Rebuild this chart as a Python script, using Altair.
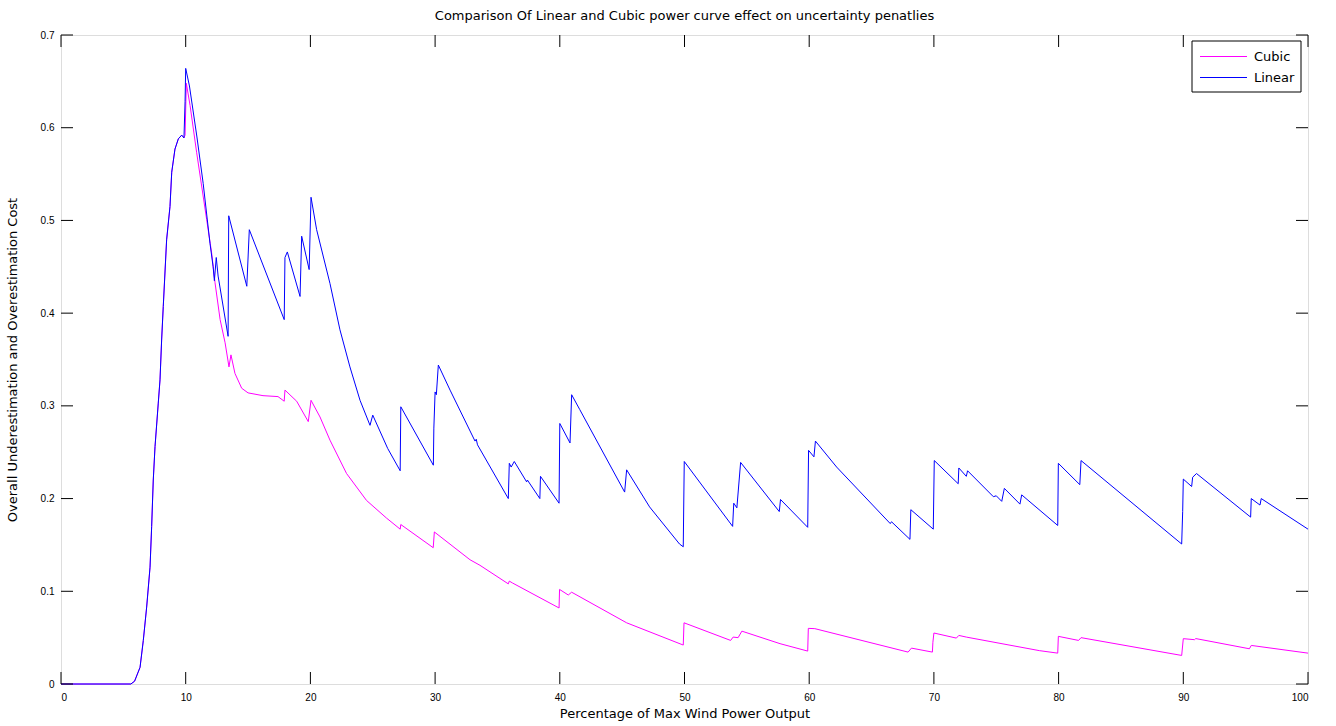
import altair as alt
import pandas as pd

# ---- data ----
rise_x = [0, 5.6, 5.9, 6.34, 6.6, 6.87, 7.14, 7.27, 7.4, 7.54, 7.8, 7.94, 8.07, 8.2, 8.47,
          8.74, 8.88, 9.14, 9.41, 9.68, 9.86]
rise_y = [0, 0, 0.003, 0.018, 0.047, 0.083, 0.126, 0.17, 0.22, 0.256, 0.303, 0.328, 0.371,
          0.407, 0.479, 0.515, 0.552, 0.577, 0.588, 0.592, 0.589]

linear_x = rise_x + [
    9.95, 10.0, 10.3, 10.9, 11.4, 11.95, 12.2, 12.3, 12.45, 12.6, 13.4, 13.45, 14.9, 15.1,
    17.9, 17.96, 18.15, 19.17, 19.3, 19.9, 20.05, 20.5, 21.57, 22.37, 23.17, 23.98, 24.78,
    25.0, 26.2, 27.2, 27.25, 29.86, 29.9, 30.0, 30.1, 30.26, 31.2, 33.2, 33.3, 33.4, 35.87,
    35.95, 36.1, 36.35, 37.34, 37.4, 38.4, 38.45, 39.94, 40.0, 40.82, 40.95, 41.6, 45.2,
    45.36, 47.2, 49.6, 49.9, 49.98, 53.86, 53.95, 54.2, 54.5, 57.6, 57.7, 59.88, 59.95,
    60.38, 60.5, 62.2, 66.5, 66.6, 68.08, 68.15, 69.95, 70.03, 71.95, 72.0, 72.6, 72.7,
    74.77, 75.0, 75.44, 75.65, 76.9, 77.04, 79.93, 79.98, 81.7, 81.8, 89.87, 89.95, 90.0,
    90.67, 90.75, 91.06, 95.4, 95.45, 96.15, 96.25, 100]
linear_y = rise_y + [
    0.628, 0.664, 0.645, 0.59, 0.54, 0.475, 0.45, 0.435, 0.46, 0.44, 0.375, 0.505, 0.429,
    0.49, 0.393, 0.46, 0.466, 0.418, 0.483, 0.447, 0.525, 0.49, 0.432, 0.382, 0.342, 0.306,
    0.279, 0.29, 0.254, 0.23, 0.299, 0.236, 0.276, 0.315, 0.312, 0.344, 0.317, 0.262, 0.264,
    0.258, 0.2, 0.238, 0.234, 0.24, 0.218, 0.22, 0.2, 0.224, 0.195, 0.281, 0.26, 0.312,
    0.296, 0.207, 0.231, 0.191, 0.151, 0.148, 0.24, 0.17, 0.195, 0.19, 0.239, 0.186, 0.199,
    0.169, 0.252, 0.245, 0.262, 0.234, 0.173, 0.175, 0.156, 0.188, 0.167, 0.241, 0.216,
    0.233, 0.224, 0.23, 0.202, 0.203, 0.197, 0.211, 0.194, 0.204, 0.171, 0.238, 0.215,
    0.241, 0.151, 0.186, 0.221, 0.213, 0.223, 0.227, 0.18, 0.2, 0.193, 0.2, 0.167]

cubic_x = rise_x + [
    9.95, 10.05, 10.35, 10.88, 11.68, 12.08, 12.35, 12.76, 13.16, 13.47, 13.63, 13.95,
    14.49, 15.0, 16.2, 17.4, 17.9, 17.96, 18.9, 19.83, 20.05, 20.77, 21.57, 22.9, 24.5,
    26.1, 27.2, 27.25, 29.85, 29.94, 32.8, 33.6, 35.87, 35.95, 36.2, 39.94, 39.98, 40.68,
    40.95, 45.36, 49.9, 49.96, 53.7, 53.9, 54.3, 54.6, 57.66, 59.88, 59.93, 60.45, 67.93,
    68.2, 69.88, 69.92, 70.0, 71.8, 72.0, 72.6, 78.45, 79.93, 79.98, 81.6, 81.8, 89.87,
    90.0, 90.9, 91.0, 95.3, 95.45, 100]
cubic_y = rise_y + [
    0.592, 0.648, 0.624, 0.573, 0.501, 0.465, 0.433, 0.393, 0.368, 0.342, 0.355, 0.335,
    0.319, 0.314, 0.311, 0.31, 0.305, 0.317, 0.305, 0.283, 0.306, 0.288, 0.263, 0.227,
    0.198, 0.179, 0.167, 0.172, 0.147, 0.164, 0.134, 0.128, 0.108, 0.111, 0.109, 0.082,
    0.102, 0.096, 0.099, 0.066, 0.042, 0.066, 0.047, 0.0506, 0.05, 0.057, 0.0435, 0.0355,
    0.060, 0.0597, 0.0344, 0.0387, 0.0344, 0.045, 0.055, 0.0495, 0.0524, 0.0506, 0.036,
    0.0333, 0.0514, 0.047, 0.05, 0.0308, 0.0489, 0.0478, 0.049, 0.038, 0.0416, 0.0333]

x_ticks = [0, 10, 20, 30, 40, 50, 60, 70, 80, 90, 100]
y_ticks = [0, 0.1, 0.2, 0.3, 0.4, 0.5, 0.6, 0.7]
series_names = ["Cubic", "Linear"]
series_colors = ["#ff00ff", "#0000ff"]

title_text = "Comparison Of Linear and Cubic power curve effect on uncertainty penatlies"
x_title = "Percentage of Max Wind Power Output"
y_title = "Overall Underestimation and Overestimation Cost"

# ---- layout ----
W, H = 1247, 649
TICK = 12
FONT = "DejaVu Sans"
FS = 12     # tick labels
TFS = 13    # titles and legend text

lin_df = pd.DataFrame({"x": linear_x, "y": linear_y, "i": range(len(linear_x))})
cub_df = pd.DataFrame({"x": cubic_x, "y": cubic_y, "i": range(len(cubic_x))})
xt_df = pd.DataFrame({"t": x_ticks})
yt_df = pd.DataFrame({"t": y_ticks})
one = pd.DataFrame({"k": [0]})

xscale = alt.Scale(domain=[0, 100], nice=False, zero=False)
yscale = alt.Scale(domain=[0, 0.7], nice=False, zero=False)

x_axis = alt.Axis(values=x_ticks, tickSize=0, labelPadding=8, grid=False, domain=False,
                  title=x_title, titlePadding=5, format="d",
                  titleFontWeight="normal", titleFont=FONT, titleFontSize=TFS)
y_axis = alt.Axis(values=y_ticks, tickSize=0, labelPadding=7, grid=False, domain=False,
                  title=y_title, format=".1~f",
                  titleFontWeight="normal", titleFont=FONT, titleFontSize=TFS,
                  titleX=-42, titleY=H / 2, titleAngle=270, titleAlign="center",
                  titleBaseline="bottom")

cubic = alt.Chart(cub_df).mark_line(strokeWidth=1, color=series_colors[0]).encode(
    x=alt.X("x:Q", scale=xscale, axis=x_axis),
    y=alt.Y("y:Q", scale=yscale, axis=y_axis),
    order=alt.Order("i:Q"),
)
linear = alt.Chart(lin_df).mark_line(strokeWidth=1, color=series_colors[1]).encode(
    x=alt.X("x:Q", scale=xscale),
    y=alt.Y("y:Q", scale=yscale),
    order=alt.Order("i:Q"),
)

tick_bottom = alt.Chart(xt_df).mark_rule(color="black", strokeWidth=1).encode(
    x=alt.X("t:Q", scale=xscale), y=alt.value(H), y2=alt.value(H - TICK))
tick_top = alt.Chart(xt_df).mark_rule(color="black", strokeWidth=1).encode(
    x=alt.X("t:Q", scale=xscale), y=alt.value(0), y2=alt.value(TICK))
tick_left = alt.Chart(yt_df).mark_rule(color="black", strokeWidth=1).encode(
    y=alt.Y("t:Q", scale=yscale), x=alt.value(0), x2=alt.value(TICK))
tick_right = alt.Chart(yt_df).mark_rule(color="black", strokeWidth=1).encode(
    y=alt.Y("t:Q", scale=yscale), x=alt.value(W), x2=alt.value(W - TICK))

# ---- legend (boxed, top-right, MATLAB style) ----
LX0, LX1, LY0, LY1 = 1131, 1240, 6, 57
leg_box = alt.Chart(one).mark_rect(fill="white", stroke="black", strokeWidth=1).encode(
    x=alt.value(LX0), x2=alt.value(LX1), y=alt.value(LY0), y2=alt.value(LY1))
leg_layers = [leg_box]
for k, (nm, col) in enumerate(zip(series_names, series_colors)):
    yy = 21.5 + k * 21
    leg_layers.append(alt.Chart(one).mark_rule(color=col, strokeWidth=1).encode(
        x=alt.value(1139), x2=alt.value(1186), y=alt.value(yy)))
    leg_layers.append(alt.Chart(one).mark_text(
        text=nm, align="left", baseline="middle", font=FONT, fontSize=TFS, color="black"
    ).encode(x=alt.value(1193), y=alt.value(yy)))

chart = alt.layer(
    cubic, linear, tick_bottom, tick_top, tick_left, tick_right, *leg_layers
).properties(
    width=W, height=H,
    title=alt.TitleParams(title_text, font=FONT, fontSize=TFS, fontWeight="normal",
                          color="black", anchor="middle", offset=7),
    autosize=alt.AutoSizeParams(type="none"),
    padding={"left": 61, "top": 35, "right": 28, "bottom": 42},
).configure_view(
    stroke="black", strokeWidth=1
).configure_axis(
    labelFont=FONT, labelFontSize=FS, labelColor="black",
    titleFont=FONT, titleFontSize=TFS, titleFontWeight="normal", titleColor="black",
).configure(background="white")

chart.save("out.html", embed_options={"renderer": "svg", "actions": False})
